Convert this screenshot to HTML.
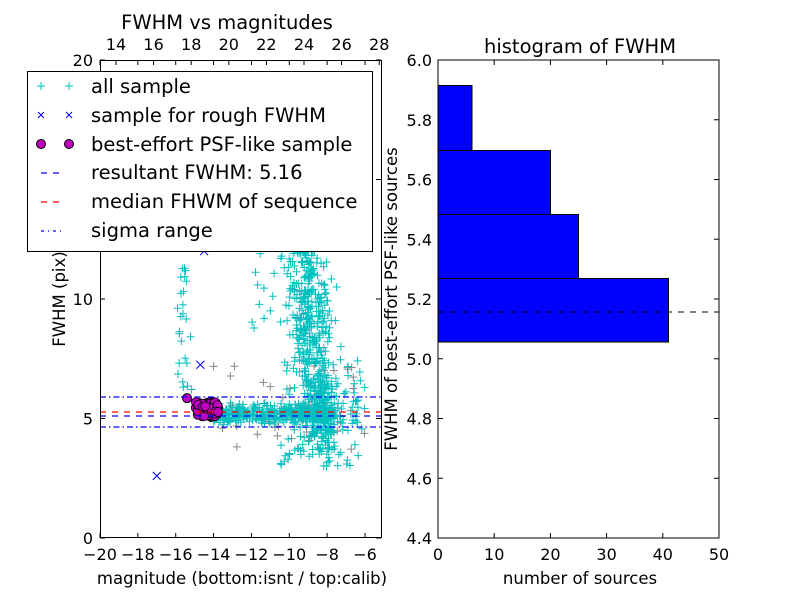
<!DOCTYPE html>
<html><head><style>body{margin:0;background:#fff}svg{display:block}text{font-family:"DejaVu Sans","Liberation Sans",sans-serif}</style></head>
<body>
<svg id="s" width="800" height="600" xmlns="http://www.w3.org/2000/svg">
<rect width="800" height="600" fill="#fff"/>
<g id="pts"></g>
<g id="ax"></g>
<g stroke="#000" stroke-width="1" fill="#0000ff">
<rect x="438" y="278.5" width="230.5" height="63.5"/>
<rect x="438" y="214.5" width="140.5" height="64"/>
<rect x="438" y="150.5" width="112.5" height="64"/>
<rect x="438" y="85.5" width="34" height="65"/>
</g>
<line x1="438" y1="312" x2="719" y2="312" stroke="#000" stroke-dasharray="6,6"/>
<rect x="438" y="60" width="281" height="478" fill="none" stroke="#000"/>
<text x="580" y="53" font-size="19.5" text-anchor="middle">histogram of FWHM</text>
<text x="580" y="584" font-size="16.5" text-anchor="middle">number of sources</text>
<text transform="translate(397,299) rotate(-90)" font-size="16.5" text-anchor="middle">FWHM of best-effort PSF-like sources</text>
<text x="227" y="29" font-size="19.5" text-anchor="middle">FWHM vs magnitudes</text>
<text x="242" y="584" font-size="16.5" text-anchor="middle">magnitude (bottom:isnt / top:calib)</text>
<text transform="translate(65,299) rotate(-90)" font-size="16.5" text-anchor="middle">FWHM (pix)</text>
<rect x="27.5" y="71.5" width="345" height="180" fill="#fff" stroke="#000"/>
<g font-size="19.5">
<text x="91" y="93">all sample</text>
<text x="91" y="122">sample for rough FWHM</text>
<text x="91" y="151">best-effort PSF-like sample</text>
<text x="91" y="179">resultant FWHM: 5.16</text>
<text x="91" y="208">median FHWM of sequence</text>
<text x="91" y="237">sigma range</text>
</g>
<g stroke="#00bfbf"><path d="M37 86h8M41 82v8M65 86h8M69 82v8"/></g>
<g stroke="#0000ff"><path d="M38 112l6 6M44 112l-6 6M66 112l6 6M72 112l-6 6"/></g>
<circle cx="41" cy="144" r="4.5" fill="#bf00bf" stroke="#000"/><circle cx="69" cy="144" r="4.5" fill="#bf00bf" stroke="#000"/>
<path d="M41 173h6M53 173h6" stroke="#0000ff" stroke-width="1.3"/>
<path d="M41 202h6M53 202h6" stroke="#ff0000" stroke-width="1.3"/>
<path d="M41 231h3M48 231h1M53 231h3M60 231h1" stroke="#0000ff" stroke-width="1.3"/>
</svg>
<script>
var NS="http://www.w3.org/2000/svg",P=document.getElementById('pts'),A=document.getElementById('ax');
function el(p,t,a){var e=document.createElementNS(NS,t);for(var k in a)e.setAttribute(k,a[k]);p.appendChild(e);return e;}
function X(m){return 100+(m+20)*18.93;}function Y(f){return 538-f*23.9;}
var seed=7;function r(){seed=(seed*16807)%2147483647;return seed/2147483647;}
function g(){return (r()+r()+r()-1.5)*1.4;}
var c=document.createElementNS(NS,'clipPath');c.id='cl';el(c,'rect',{x:100,y:60,width:281,height:478});document.querySelector('svg').appendChild(c);
var gp=el(P,'g',{'clip-path':'url(#cl)'});
function plus(x,y,col){el(gp,'path',{d:'M'+(x-4)+' '+y+'h8M'+x+' '+(y-4)+'v8',stroke:col,'stroke-width':1});}
var i,m,f;
for(i=0;i<50;i++){m=-14+r()*8;f=3.5+r()*4;plus(X(m),Y(f),'#888');}
for(i=0;i<350;i++){m=-14+r()*6.5;f=5.2+g()*0.25;plus(X(m),Y(f),'#00bfbf');}
for(i=0;i<450;i++){var t=r();m=-8.3+g()*0.7-t*1.0;f=4+t*8.5+g()*0.7;plus(X(m),Y(f),'#00bfbf');}
for(i=0;i<150;i++){m=-10.5+r()*4.5;f=3+r()*4.5;plus(X(m),Y(f),'#00bfbf');}
for(i=0;i<50;i++){m=-12+r()*5;f=8+r()*8;plus(X(m),Y(f),'#00bfbf');}
for(i=0;i<35;i++){m=-15.6+g()*0.3;f=6+r()*7;plus(X(m),Y(f),'#00bfbf');}
[[-17,2.6],[-14.7,7.25],[-14.5,12]].forEach(function(p){var x=X(p[0]),y=Y(p[1]);el(gp,'path',{d:'M'+(x-4)+' '+(y-4)+'l8 8M'+(x+4)+' '+(y-4)+'l-8 8',stroke:'#0000ff'});});
for(i=0;i<90;i++){m=-15+r()*1.25;f=5.05+r()*0.65;el(gp,'circle',{cx:X(m),cy:Y(f),r:4.5,fill:'#bf00bf',stroke:'#000','stroke-width':0.8});}
el(gp,'circle',{cx:X(-15.4),cy:Y(5.85),r:4.5,fill:'#bf00bf',stroke:'#000'});
el(P,'line',{x1:100,x2:381,y1:397,y2:397,stroke:'#0000ff','stroke-width':1.3,'stroke-dasharray':'6,3,1.5,3'});
el(P,'line',{x1:100,x2:381,y1:427,y2:427,stroke:'#0000ff','stroke-width':1.3,'stroke-dasharray':'6,3,1.5,3'});
el(P,'line',{x1:100,x2:381,y1:412,y2:412,stroke:'#ff0000','stroke-width':1.3,'stroke-dasharray':'6,6'});
el(P,'line',{x1:100,x2:381,y1:416,y2:416,stroke:'#0000ff','stroke-width':1.3,'stroke-dasharray':'6,6'});
el(A,'rect',{x:100.5,y:60.5,width:281,height:477,fill:'none',stroke:'#000'});
function tx(p,x,y,s,anc,fs){var e=el(p,'text',{x:x,y:y,'font-size':fs||16,'text-anchor':anc||'middle'});e.textContent=s;}
for(m=-20;m<=-6;m+=2){var x=X(m);el(A,'path',{d:'M'+x+' 538v-5M'+x+' 60v5',stroke:'#000'});tx(A,x,560,'\u2212'+(-m));}
for(i=14;i<=28;i+=2){var x=116+(i-14)*18.8;el(A,'path',{d:'M'+x+' 60v5',stroke:'#000'});tx(A,x,50,''+i);}
[0,5,10,15,20].forEach(function(v){var y=Y(v);el(A,'path',{d:'M100 '+y+'h5M381 '+y+'h-5',stroke:'#000'});tx(A,93,y+6,''+v,'end');});
for(i=0;i<=50;i+=10){var x=438+i*5.62;el(A,'path',{d:'M'+x+' 538v-5M'+x+' 60v5',stroke:'#000'});tx(A,x,560,''+i);}
for(i=0;i<=8;i++){var v=4.4+i*0.2,y=538-i*59.75;el(A,'path',{d:'M438 '+y+'h5M719 '+y+'h-5',stroke:'#000'});tx(A,432,y+6,v.toFixed(1),'end');}
</script>
</body></html>
